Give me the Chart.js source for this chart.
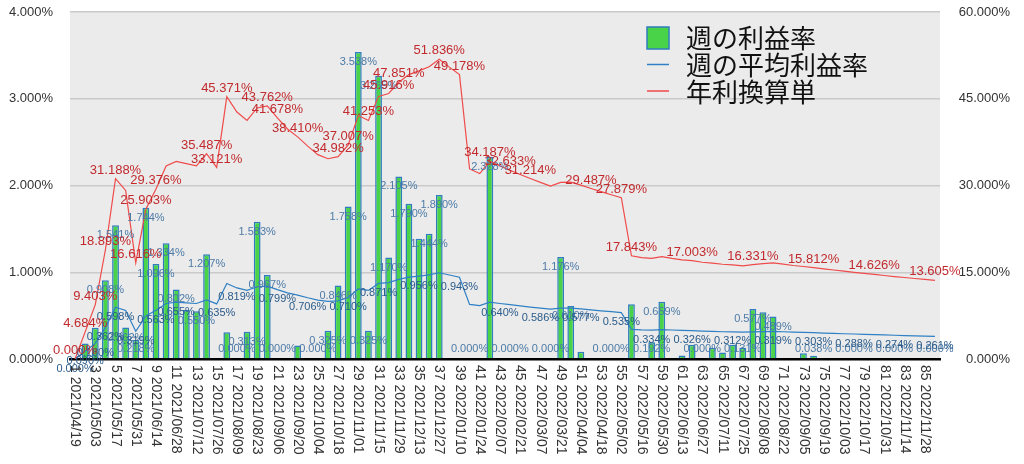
<!DOCTYPE html>
<html><head><meta charset="utf-8">
<script src="https://cdn.jsdelivr.net/npm/chart.js@4.4.1/dist/chart.umd.min.js"></script>
<style>html,body{margin:0;padding:0;background:#fff}#wrap{width:1024px;height:464px}</style>
</head><body><div id="wrap"><canvas id="c" width="1024" height="464"></canvas></div>
<script>
const categories = ['1 2021/04/19','2 2021/04/26','3 2021/05/03','4 2021/05/10','5 2021/05/17','6 2021/05/24','7 2021/05/31','8 2021/06/07','9 2021/06/14','10 2021/06/21','11 2021/06/28','12 2021/07/05','13 2021/07/12','14 2021/07/19','15 2021/07/26','16 2021/08/02','17 2021/08/09','18 2021/08/16','19 2021/08/23','20 2021/08/30','21 2021/09/06','22 2021/09/13','23 2021/09/20','24 2021/09/27','25 2021/10/04','26 2021/10/11','27 2021/10/18','28 2021/10/25','29 2021/11/01','30 2021/11/08','31 2021/11/15','32 2021/11/22','33 2021/11/29','34 2021/12/06','35 2021/12/13','36 2021/12/20','37 2021/12/27','38 2022/01/03','39 2022/01/10','40 2022/01/17','41 2022/01/24','42 2022/01/31','43 2022/02/07','44 2022/02/14','45 2022/02/21','46 2022/02/28','47 2022/03/07','48 2022/03/14','49 2022/03/21','50 2022/03/28','51 2022/04/04','52 2022/04/11','53 2022/04/18','54 2022/04/25','55 2022/05/02','56 2022/05/09','57 2022/05/16','58 2022/05/23','59 2022/05/30','60 2022/06/06','61 2022/06/13','62 2022/06/20','63 2022/06/27','64 2022/07/04','65 2022/07/11','66 2022/07/18','67 2022/07/25','68 2022/08/01','69 2022/08/08','70 2022/08/15','71 2022/08/22','72 2022/08/29','73 2022/09/05','74 2022/09/12','75 2022/09/19','76 2022/09/26','77 2022/10/03','78 2022/10/10','79 2022/10/17','80 2022/10/24','81 2022/10/31','82 2022/11/07','83 2022/11/14','84 2022/11/21','85 2022/11/28','86 2022/12/05'];

const weeklyRate = [0,0.180,0.361,0.908,1.541,0.362,0.218,1.744,1.096,1.334,
 0.802,0.565,0.550,1.207,0,0.307,0,0.313,1.583,0.967,
 0,0,0.157,0,0,0.325,0.846,1.758,3.538,0.325,
 3.265,1.170,2.105,1.790,1.386,1.444,1.890,0,0,0,
 0,2.328,0,0,0,0,0,0,1.176,0.610,
 0.083,0,0,0,0,0.630,0,0.192,0.659,0,
 0.040,0.164,0,0.130,0.075,0.165,0.131,0.577,0.538,0.489,
 0,0,0.065,0.038,0,0,0,0,0,0,
 0,0,0,0,0,0];

const avgRate = [0.000,0.090,0.180,0.362,0.598,0.559,0.319,0.497,0.563,0.640,
 0.655,0.648,0.640,0.681,0.635,0.870,0.819,0.791,0.833,0.839,
 0.799,0.763,0.737,0.706,0.678,0.664,0.671,0.710,0.807,0.791,
 0.871,0.881,0.918,0.943,0.956,0.969,0.994,0.968,0.943,0.630,
 0.615,0.656,0.640,0.626,0.612,0.599,0.586,0.574,0.586,0.586,
 0.577,0.566,0.555,0.545,0.535,0.342,0.336,0.334,0.339,0.334,
 0.329,0.326,0.321,0.318,0.314,0.312,0.309,0.313,0.316,0.319,
 0.314,0.310,0.307,0.303,0.299,0.295,0.291,0.288,0.284,0.280,
 0.277,0.274,0.270,0.267,0.264,0.261];

const annualRate = [0,4.684,9.403,18.893,31.188,29.14,16.616,25.903,29.376,33.39,
 34.16,33.77,33.38,35.487,33.121,45.371,42.70,41.24,43.41,43.762,
 41.678,39.78,38.410,36.81,35.34,34.63,34.982,37.007,42.09,41.253,
 45.41,45.916,47.851,49.17,49.83,50.54,51.836,50.47,49.178,32.86,
 32.06,34.187,33.39,32.633,31.91,31.214,30.55,29.91,30.55,30.58,
 30.06,29.487,28.93,28.40,27.879,17.843,17.53,17.40,17.69,17.39,
 17.14,17.003,16.73,16.58,16.38,16.27,16.12,16.331,16.50,16.63,
 16.39,16.17,15.99,15.812,15.59,15.39,15.19,14.99,14.80,14.626,
 14.44,14.26,14.09,13.92,13.76,13.605];

const leftTicks = [0,1,2,3,4];
const rightTicks = [0,15,30,45,60];
const seriesNames = ['週の利益率','週の平均利益率','年利換算単'];

// weeks (1-based) whose value labels are visible in the reference
const barLabelWeeks = [4,5,6,7,8,9,10,11,13,14,17,18,19,20,21,25,26,27,28,29,30,31,32,33,34,36,37,40,42,44,48,49,50,54,58,59,63,67,68,70,74,78,82,86];
const avgLabelWeeks = [1,2,3,4,5,7,9,11,15,17,21,24,28,31,35,39,43,47,51,55,58,62,66,70,74,78,82,86];
const annualLabelWeeks = [1,2,3,4,5,7,8,9,14,15,16,20,21,23,27,28,30,32,33,37,39,42,44,46,52,55,56,62,68,74,80,86];

const NUMFONT = '"Liberation Sans", Arial, sans-serif';
const CJKFONT = '"Noto Sans CJK JP", sans-serif';
const COL = {
  bg: '#ebebeb', grid: '#cacaca', barFill: '#48d348', barBorder: '#2f7cc0',
  avgLine: '#2f80c4', annLine: '#f04a4a', barLbl: '#4c7aa6', avgLbl: '#2a5b8a', annLbl: '#c22a2e', tick: '#333333'
};
const fmt = v => Number(v).toFixed(3) + '%';

const bgPlugin = {
  id: 'bgPlugin',
  beforeDraw(chart) {
    const {ctx, chartArea: a} = chart;
    ctx.save(); ctx.fillStyle = COL.bg;
    ctx.fillRect(a.left, a.top, a.right - a.left, a.bottom - a.top);
    ctx.restore();
  }
};

const labelPlugin = {
  id: 'labelPlugin',
  afterDatasetsDraw(chart) {
    const ctx = chart.ctx;
    const yS = chart.scales.y;
    const base = yS.getPixelForValue(0);
    ctx.save();
    ctx.textAlign = 'center'; ctx.textBaseline = 'middle';
    const mb = chart.getDatasetMeta(0);
    ctx.font = '11px ' + NUMFONT; ctx.fillStyle = COL.barLbl;
    barLabelWeeks.forEach(w => {
      const el = mb.data[w-1];
      const y = Math.min(el.y + 10, base - 10);
      ctx.fillText(fmt(weeklyRate[w-1]), el.x, y);
    });
    const ma = chart.getDatasetMeta(1);
    ctx.fillStyle = COL.avgLbl;
    avgLabelWeeks.forEach(w => {
      const el = ma.data[w-1];
      ctx.fillText(fmt(avgRate[w-1]), el.x, el.y + 9.5);
    });
    const mr = chart.getDatasetMeta(2);
    ctx.font = '13px ' + NUMFONT; ctx.fillStyle = COL.annLbl;
    annualLabelWeeks.forEach(w => {
      const el = mr.data[w-1];
      ctx.fillText(fmt(annualRate[w-1]), el.x, el.y - 8.5);
    });
    ctx.restore();
  }
};

const xLabelPlugin = {
  id: 'xLabelPlugin',
  afterDraw(chart) {
    const ctx = chart.ctx; const xs = chart.scales.x;
    ctx.save();
    ctx.font = '14px ' + NUMFONT; ctx.fillStyle = COL.tick;
    ctx.textAlign = 'left'; ctx.textBaseline = 'middle';
    categories.forEach((c, i) => {
      if (i % 2 !== 0) return;
      const x = xs.getPixelForValue(i);
      ctx.save(); ctx.translate(x, xs.top + 6); ctx.rotate(Math.PI / 2);
      ctx.fillText(c, 0, 0); ctx.restore();
    });
    ctx.restore();
  }
};

const legendPlugin = {
  id: 'legendPlugin',
  afterDraw(chart) {
    const ctx = chart.ctx;
    ctx.save();
    const x0 = 647, rows = [38, 65, 92];
    ctx.fillStyle = COL.barFill; ctx.strokeStyle = COL.barBorder; ctx.lineWidth = 1.5;
    ctx.fillRect(x0, 27, 22, 22); ctx.strokeRect(x0, 27, 22, 22);
    ctx.lineWidth = 1.5;
    ctx.strokeStyle = COL.avgLine; ctx.beginPath(); ctx.moveTo(x0, 64.5); ctx.lineTo(x0 + 22, 64.5); ctx.stroke();
    ctx.strokeStyle = COL.annLine; ctx.beginPath(); ctx.moveTo(x0, 91); ctx.lineTo(x0 + 22, 91); ctx.stroke();
    ctx.font = '26px ' + CJKFONT; ctx.fillStyle = '#111';
    ctx.textAlign = 'left'; ctx.textBaseline = 'middle';
    seriesNames.forEach((n, i) => ctx.fillText(n, 686, rows[i]));
    ctx.restore();
  }
};

new Chart(document.getElementById('c'), {
  data: {
    labels: categories,
    datasets: [
      { type: 'bar', label: seriesNames[0], data: weeklyRate, yAxisID: 'y', order: 3,
        backgroundColor: COL.barFill, borderColor: COL.barBorder, borderWidth: 1.5,
        categoryPercentage: 0.8, barPercentage: 0.84 },
      { type: 'line', label: seriesNames[1], data: avgRate, yAxisID: 'y', order: 2,
        borderColor: COL.avgLine, borderWidth: 1.2, pointRadius: 0, tension: 0, fill: false },
      { type: 'line', label: seriesNames[2], data: annualRate, yAxisID: 'y2', order: 1,
        borderColor: COL.annLine, borderWidth: 1.2, pointRadius: 0, tension: 0, fill: false }
    ]
  },
  options: {
    responsive: false, animation: false, devicePixelRatio: 1,
    layout: { padding: { top: 12, right: 14, left: 0, bottom: 0 } },
    plugins: { legend: { display: false }, tooltip: { enabled: false } },
    scales: {
      x: { type: 'category', offset: true, grid: { display: false },
        border: { display: true, color: '#000', width: 2.5 },
        ticks: { display: false },
        afterFit(s) { s.height = 105; s.paddingLeft = 0; s.paddingRight = 0; } },
      y: { position: 'left', min: 0, max: 4,
        afterBuildTicks(s) { s.ticks = leftTicks.map(v => ({ value: v })); },
        ticks: { callback: v => fmt(v), padding: 17, color: COL.tick, font: { size: 13, family: NUMFONT } },
        grid: { color: COL.grid, lineWidth: 1.5, drawTicks: false },
        border: { display: false },
        afterFit(s) { s.width = 70; s.paddingTop = 0; s.paddingBottom = 0; } },
      y2: { position: 'right', min: 0, max: 60,
        afterBuildTicks(s) { s.ticks = rightTicks.map(v => ({ value: v })); },
        ticks: { callback: v => fmt(v), crossAlign: 'far', padding: 0, color: COL.tick, font: { size: 13, family: NUMFONT } },
        grid: { display: false, drawTicks: false }, border: { display: false },
        afterFit(s) { s.width = 70; s.paddingTop = 0; s.paddingBottom = 0; } }
    }
  },
  plugins: [bgPlugin, labelPlugin, xLabelPlugin, legendPlugin]
});
</script></body></html>
